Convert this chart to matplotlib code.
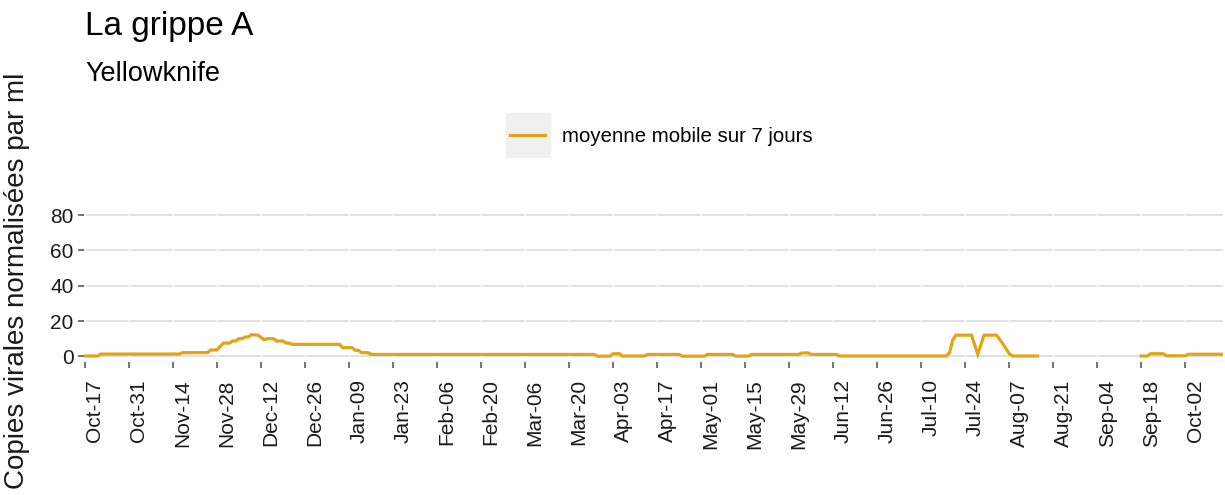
import numpy as np
import pandas as pd
import matplotlib
matplotlib.use('Agg')
import matplotlib.pyplot as plt
from matplotlib.patches import Rectangle
from matplotlib.lines import Line2D
from matplotlib.transforms import ScaledTranslation

plt.rcParams['font.family'] = ['Liberation Sans', 'DejaVu Sans']

# 7-day moving average (None = no data)
dates = ['2022-10-17', '2022-10-21', '2022-10-22', '2022-11-16', '2022-11-17',
         '2022-11-25', '2022-11-26', '2022-11-28', '2022-11-30', '2022-12-02',
         '2022-12-03', '2022-12-04', '2022-12-05', '2022-12-06', '2022-12-07',
         '2022-12-08', '2022-12-09', '2022-12-11', '2022-12-13', '2022-12-14',
         '2022-12-16', '2022-12-17', '2022-12-19', '2022-12-20', '2022-12-21',
         '2022-12-22', '2023-01-06', '2023-01-07', '2023-01-10', '2023-01-11',
         '2023-01-12', '2023-01-13', '2023-01-15', '2023-01-16', '2023-03-28',
         '2023-03-29', '2023-04-02', '2023-04-03', '2023-04-05', '2023-04-06',
         '2023-04-13', '2023-04-14', '2023-04-24', '2023-04-25', '2023-05-02',
         '2023-05-03', '2023-05-11', '2023-05-12', '2023-05-16', '2023-05-17',
         '2023-06-01', '2023-06-02', '2023-06-04', '2023-06-05', '2023-06-13',
         '2023-06-14', '2023-07-18', '2023-07-19', '2023-07-20', '2023-07-21',
         '2023-07-26', '2023-07-28', '2023-07-30', '2023-07-31', '2023-08-03',
         '2023-08-05', '2023-08-07', '2023-08-08', '2023-08-16', '2023-08-30',
         '2023-09-18', '2023-09-20', '2023-09-21', '2023-09-25', '2023-09-26',
         '2023-10-02', '2023-10-03', '2023-10-14']
values = [0.2, 0.2, 1.3, 1.3, 2.1,
          2.1, 3.6, 3.6, 7.5, 7.5,
          8.7, 8.7, 10.0, 10.0, 11.0,
          11.0, 12.3, 12.0, 9.4, 10.0,
          10.0, 8.7, 8.7, 7.5, 7.5,
          6.8, 6.8, 4.9, 4.9, 3.4,
          3.4, 2.1, 2.1, 1.1, 1.1,
          0.1, 0.1, 1.5, 1.5, 0.2,
          0.2, 1.1, 1.1, 0.1, 0.1,
          1.1, 1.1, 0.1, 0.1, 1.1,
          1.1, 1.9, 1.9, 1.1, 1.1,
          0.2, 0.2, 2.0, 9.0, 12.0,
          12.0, 1.2, 12.0, 12.0, 12.0,
          7.0, 1.5, 0.2, 0.2, None,
          0.2, 0.2, 1.5, 1.5, 0.3,
          0.3, 1.2, 1.2]

tick_dates = pd.date_range('2022-10-17', periods=26, freq='14D')
y_ticks = [0, 20, 40, 60, 80]

x = pd.to_datetime(dates)
y = np.array([np.nan if v is None else v for v in values], dtype=float)

line_col = '#E0A415'
W, H = 1225, 495

fig = plt.figure(figsize=(W / 100, H / 100), dpi=100)
ax = fig.add_axes([84 / W, 1 - 362 / H, 1139 / W, 154 / H])

for v in y_ticks:
    ax.axhline(v, color='#DCDCDC', lw=1.2, zorder=1)
for d in tick_dates:
    ax.axvline(d, color='white', lw=1.0, zorder=1.5)

ax.plot(x, y, color=line_col, lw=2.3, zorder=3, solid_joinstyle='miter')

ax.set_xlim(pd.Timestamp('2022-10-16 17:00'), pd.Timestamp('2023-10-14'))
ax.set_ylim(-3.2, 84)
ax.set_yticks(y_ticks)
ax.set_xticks(tick_dates)
ax.set_xticklabels([d.strftime('%b-%d') for d in tick_dates], rotation=90,
                   ha='center', va='top')
for s in ax.spines.values():
    s.set_visible(False)
ax.tick_params(axis='both', length=4.5, width=1.1, color='#4D4D4D',
               labelsize=15, labelcolor='#1A1A1A')
ax.tick_params(axis='x', pad=8)
ax.tick_params(axis='y', pad=3)
offset = ScaledTranslation(10 / 100, 0, fig.dpi_scale_trans)
for lab in ax.get_xticklabels():
    lab.set_transform(lab.get_transform() + offset)

ax.set_ylabel('Copies virales normalisées par ml', fontsize=20, color='#1A1A1A')
ax.yaxis.set_label_coords(-0.047, 0.53)

fig.text(85 / W, 1 - 35 / H, 'La grippe A', fontsize=24, va='baseline', ha='left')
fig.text(85 / W, 1 - 81 / H, 'Yellowknife', fontsize=19.5, va='baseline', ha='left')

# legend key background
fig.patches.append(Rectangle((506 / W, 1 - 157 / H), 44 / W, 44 / H,
                             transform=fig.transFigure, color='#F0F0F0', zorder=0))
handle = Line2D([], [], color=line_col, lw=2.3)
fig.legend([handle], ['moyenne mobile sur 7 jours'], loc='center left',
           bbox_to_anchor=(510 / W, 1 - 137 / H), frameon=False, fontsize=14.7,
           borderpad=0, borderaxespad=0, handlelength=1.7, handletextpad=0.85)

fig.savefig('out.png', dpi=100)
